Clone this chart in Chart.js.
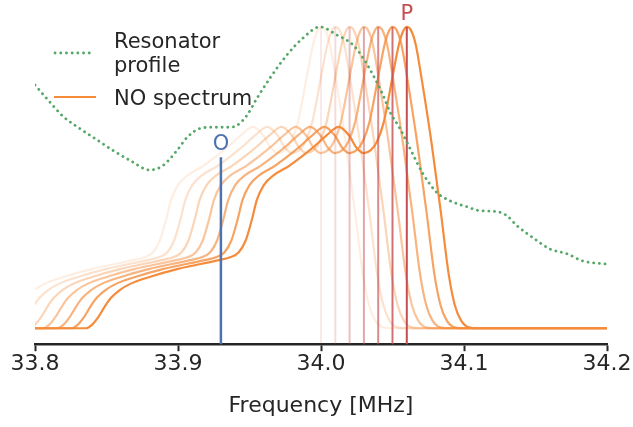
<!DOCTYPE html>
<html>
<head>
<meta charset="utf-8">
<script src="https://cdn.jsdelivr.net/npm/chart.js@4/dist/chart.umd.min.js"></script>
<style>
  html, body { margin: 0; padding: 0; background: #ffffff; }
  #wrap { width: 633px; height: 427px; }
</style>
</head>
<body>
<div id="wrap"><canvas id="c" width="633" height="427"></canvas></div>
<script>
// ---- Data ----
const xTicks = [33.8, 33.9, 34.0, 34.1, 34.2];

// Resonator profile (green dotted): frequency [MHz] and relative amplitude
const resonatorFreq = [33.800, 33.8105, 33.8196, 33.8315, 33.8434, 33.8545, 33.8664, 33.8804, 33.8895, 33.8993,
  33.9063, 33.9154, 33.9245, 33.9364, 33.9413, 33.9483, 33.9552, 33.9643, 33.9762, 33.9874,
  33.9993, 34.0112, 34.0224, 34.0294, 34.0364, 34.0434, 34.0483, 34.0552, 34.0622, 34.0713,
  34.0811, 34.0902, 34.1021, 34.1112, 34.1231, 34.1301, 34.1371, 34.1483, 34.1601, 34.172,
  34.1832, 34.200];
const resonatorAmp = [0.807, 0.750, 0.703, 0.662, 0.625, 0.590, 0.557, 0.525, 0.540, 0.590,
  0.633, 0.663, 0.667, 0.667, 0.673, 0.707, 0.763, 0.830, 0.907, 0.963,
  1.000, 0.973, 0.940, 0.897, 0.840, 0.773, 0.717, 0.663, 0.597, 0.513,
  0.450, 0.423, 0.403, 0.390, 0.387, 0.373, 0.340, 0.300, 0.263, 0.247,
  0.223, 0.213];

// NO spectrum shape: frequency offset from the pump peak [MHz] and relative signal
const spectrumOffset = [-0.261, -0.2245, -0.2200, -0.2160, -0.2115, -0.2070, -0.2010, -0.1930, -0.1800, -0.1600,
  -0.1315, -0.1231, -0.1175, -0.1126, -0.1084, -0.1049, -0.1000, -0.0930, -0.0825, -0.0720,
  -0.0636, -0.0559, -0.0476, -0.0406, -0.0350, -0.0301, -0.0252, -0.0210, -0.0161, -0.0126,
  -0.0091, -0.0056, -0.0028, 0.0, 0.0028, 0.0063, 0.0105, 0.0175, 0.0238, 0.0294,
  0.0336, 0.0378, 0.0434, 0.0503, 0.200];
const spectrumSignal = [0.000, 0.000, 0.012, 0.035, 0.070, 0.100, 0.126, 0.148, 0.170, 0.197,
  0.226, 0.236, 0.252, 0.292, 0.359, 0.425, 0.475, 0.508, 0.538, 0.575,
  0.608, 0.641, 0.668, 0.641, 0.598, 0.581, 0.591, 0.618, 0.684, 0.767,
  0.857, 0.940, 0.983, 1.000, 0.990, 0.940, 0.824, 0.608, 0.385, 0.176,
  0.076, 0.027, 0.003, 0.000, 0.000];

// Pump frequencies (red lines / peak positions of each spectrum) and their opacity
const pumpFreqs = [34.00, 34.01, 34.02, 34.03, 34.04, 34.05, 34.06];
const curveAlpha = [0.15, 0.25, 0.37, 0.5, 0.65, 0.8, 1.0];
const lineAlpha = [0.12, 0.2, 0.35, 0.5, 0.65, 0.8, 1.0];
const markerO = 33.93;
const markerP = 34.06;

// ---- Build datasets ----
const ORANGE = [245, 140, 60];
const RED = [196, 78, 82];
const datasets = [];

datasets.push({
  label: 'Resonator profile',
  data: resonatorFreq.map((f, i) => ({ x: f, y: resonatorAmp[i] })),
  borderColor: '#55A868',
  borderWidth: 2.8,
  borderDash: [0.1, 5.6],
  borderCapStyle: 'round',
  pointRadius: 0,
  cubicInterpolationMode: 'monotone',
  order: 0
});

pumpFreqs.forEach((p, k) => {
  datasets.push({
    label: 'pump ' + p,
    data: [{ x: p, y: -0.06 }, { x: p, y: 1.0 }],
    borderColor: `rgba(${RED[0]},${RED[1]},${RED[2]},${lineAlpha[k]})`,
    borderWidth: 2,
    pointRadius: 0,
    order: 1
  });
});

datasets.push({
  label: 'O',
  data: [{ x: markerO, y: -0.06 }, { x: markerO, y: 0.567 }],
  borderColor: '#4C72B0',
  borderWidth: 2.5,
  pointRadius: 0,
  order: 1
});

pumpFreqs.forEach((p, k) => {
  datasets.push({
    label: 'NO spectrum ' + p,
    data: spectrumOffset.map((o, i) => ({ x: p + o, y: spectrumSignal[i] })),
    borderColor: `rgba(${ORANGE[0]},${ORANGE[1]},${ORANGE[2]},${curveAlpha[k]})`,
    borderWidth: 2.2,
    pointRadius: 0,
    cubicInterpolationMode: 'monotone',
    order: 10 - k
  });
});

// ---- Annotation / legend plugin ----
const TEXT = '#262626';
const FAMILY = '"DejaVu Sans", sans-serif';
const annot = {
  id: 'annot',
  afterDraw(chart) {
    const ctx = chart.ctx;
    const xs = chart.scales.x, ys = chart.scales.y;
    ctx.save();
    ctx.font = '21px ' + FAMILY;
    ctx.textAlign = 'center';
    ctx.textBaseline = 'alphabetic';
    ctx.fillStyle = '#4C72B0';
    ctx.fillText('O', xs.getPixelForValue(markerO), ys.getPixelForValue(0.593));
    ctx.fillStyle = 'rgb(196,78,82)';
    ctx.fillText('P', xs.getPixelForValue(markerP), ys.getPixelForValue(1.023));

    // legend
    ctx.textAlign = 'left';
    ctx.fillStyle = TEXT;
    ctx.fillText('Resonator', 114, 48);
    ctx.fillText('profile', 114, 72);
    ctx.fillText('NO spectrum', 114, 105);
    ctx.strokeStyle = '#55A868';
    ctx.lineWidth = 2.8;
    ctx.lineCap = 'round';
    ctx.setLineDash([0.1, 5.6]);
    ctx.beginPath(); ctx.moveTo(55, 53); ctx.lineTo(93, 53); ctx.stroke();
    ctx.setLineDash([]);
    ctx.lineCap = 'butt';
    ctx.strokeStyle = 'rgb(245,140,60)';
    ctx.lineWidth = 2.2;
    ctx.beginPath(); ctx.moveTo(54, 97); ctx.lineTo(96, 97); ctx.stroke();
    ctx.restore();
  }
};

new Chart(document.getElementById('c'), {
  type: 'line',
  data: { datasets },
  options: {
    responsive: false,
    animation: false,
    devicePixelRatio: 1,
    layout: { padding: { left: 35, right: 26, top: 10, bottom: 8 } },
    plugins: { legend: { display: false }, tooltip: { enabled: false } },
    elements: { line: { fill: false } },
    scales: {
      x: {
        type: 'linear',
        min: 33.8,
        max: 34.2,
        afterBuildTicks(axis) { axis.ticks = xTicks.map(v => ({ value: v })); },
        ticks: {
          color: TEXT,
          font: { family: FAMILY, size: 22 },
          padding: 0,
          maxRotation: 0,
          callback: v => v.toFixed(1)
        },
        grid: {
          display: true,
          drawOnChartArea: false,
          drawTicks: true,
          tickLength: 7,
          tickWidth: 2,
          tickColor: TEXT,
          color: TEXT
        },
        border: { display: true, color: TEXT, width: 2.5 },
        title: {
          display: true,
          text: 'Frequency [MHz]',
          color: TEXT,
          font: { family: FAMILY, size: 22 },
          padding: { top: 15, bottom: 0 }
        }
      },
      y: {
        type: 'linear',
        display: false,
        min: -0.053,
        max: 1.056
      }
    }
  },
  plugins: [annot]
});
</script>
</body>
</html>
